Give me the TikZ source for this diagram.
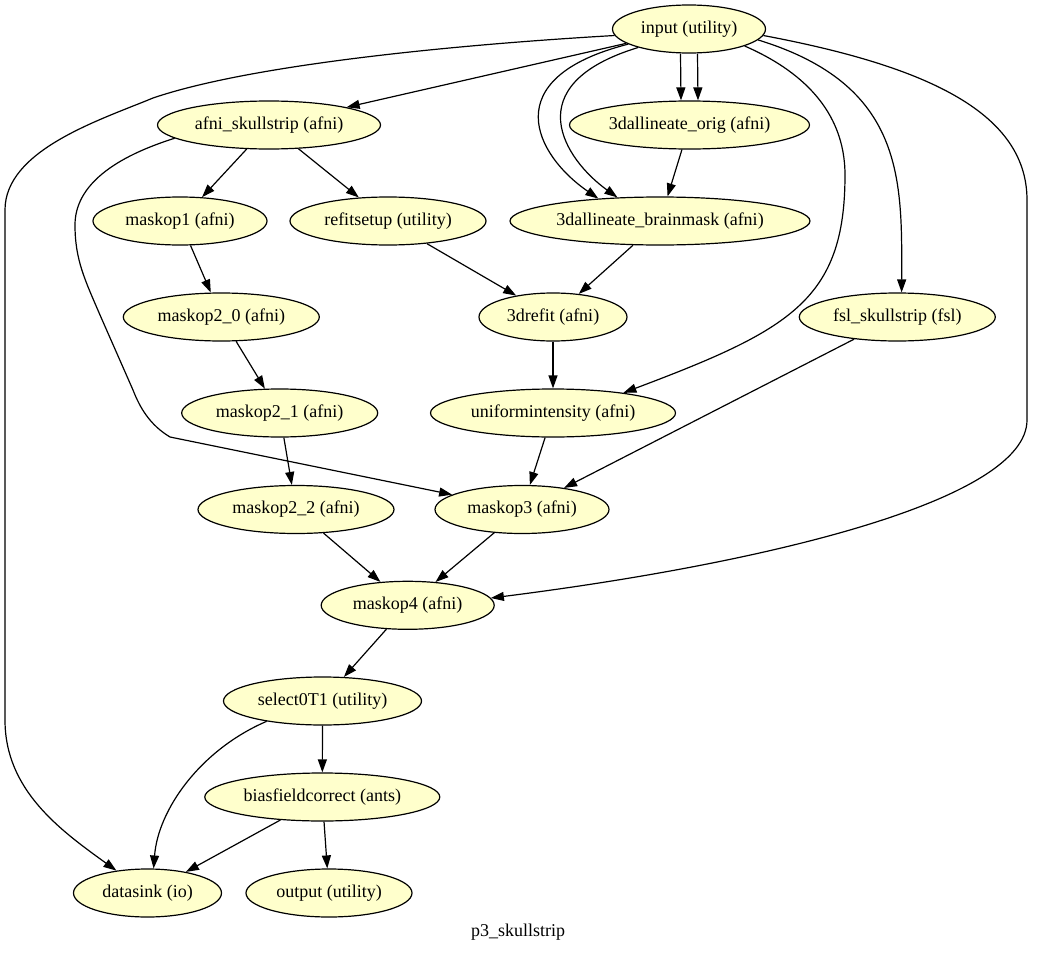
\documentclass[tikz,border=0pt]{standalone}
\usepackage{fontspec}
\setmainfont{Liberation Serif}
\usetikzlibrary{arrows.meta,shapes.geometric}
\definecolor{nodefill}{HTML}{FFFFCC}
\tikzset{
  gnode/.style={ellipse, draw=black, fill=nodefill, line width=1.2pt, inner sep=0pt,
    minimum height=48pt, font=\fontsize{18}{22}\selectfont},
  edge/.style={line width=1.2pt, -{Triangle[length=13pt,width=9pt]}},
  titletext/.style={font=\fontsize{18}{22}\selectfont}
}
\begin{document}
\begin{tikzpicture}[x=1pt,y=-1pt]
\useasboundingbox (0,0) rectangle (1037,953);
% nodes
\node[gnode, minimum width=153pt] (input) at (689,29) {input (utility)};
\node[gnode, minimum width=223pt] (afni) at (269,125) {afni\_skullstrip (afni)};
\node[gnode, minimum width=240pt] (orig) at (689.5,125) {3dallineate\_orig (afni)};
\node[gnode, minimum width=174pt] (mask1) at (180,221) {maskop1 (afni)};
\node[gnode, minimum width=196pt] (refit) at (388,221) {refitsetup (utility)};
\node[gnode, minimum width=300pt] (brain) at (660,221) {3dallineate\_brainmask (afni)};
\node[gnode, minimum width=196pt] (m20) at (221.3,317) {maskop2\_0 (afni)};
\node[gnode, minimum width=148pt] (drefit) at (553,317) {3drefit (afni)};
\node[gnode, minimum width=196pt] (fsl) at (897.3,317) {fsl\_skullstrip (fsl)};
\node[gnode, minimum width=196pt] (m21) at (279.7,413) {maskop2\_1 (afni)};
\node[gnode, minimum width=245pt] (unif) at (553,413) {uniformintensity (afni)};
\node[gnode, minimum width=196pt] (m22) at (296,509.5) {maskop2\_2 (afni)};
\node[gnode, minimum width=174pt] (m3) at (522,509.5) {maskop3 (afni)};
\node[gnode, minimum width=173pt] (m4) at (407.7,605.3) {maskop4 (afni)};
\node[gnode, minimum width=198pt] (sel) at (322.5,701) {select0T1 (utility)};
\node[gnode, minimum width=235pt] (bias) at (322.3,797) {biasfieldcorrect (ants)};
\node[gnode, minimum width=148pt] (sink) at (147.5,893) {datasink (io)};
\node[gnode, minimum width=166pt] (out) at (329,893) {output (utility)};
\node[titletext] (title) at (518,932) {p3\_skullstrip};
% edges from input
\draw[edge] (input) -- (afni);
\draw[edge] (input.185) .. controls (450,45) and (250,65) .. (153,98)
  .. controls (100,120) and (5,150) .. (5,210) -- (5,720)
  .. controls (5,790) and (60,830) .. (sink);
\draw[edge] ([xshift=-8.5pt]input.south) -- ([xshift=-8.5pt]orig.north);
\draw[edge] ([xshift=8.5pt]input.south) -- ([xshift=8.5pt]orig.north);
\draw[edge] (input.194) .. controls (495,78) and (535,155) .. (brain.160);
\draw[edge] (input.200) .. controls (515,85) and (565,160) .. (brain.151);
\draw[edge] (input.343) .. controls (800,70) and (845,110) .. (845,175)
  .. controls (845,300) and (790,330) .. (unif.16);
\draw[edge] (input.-9) .. controls (905,85) and (902,180) .. (fsl.80);
\draw[edge] (input.-5) .. controls (920,65) and (1027,110) .. (1027,200) -- (1027,420)
  .. controls (1027,500) and (768,563) .. (m4.5);
% other edges
\draw[edge] (afni) -- (mask1);
\draw[edge] (afni) -- (refit);
\draw[edge] (afni.188) .. controls (115,157) and (75,185) .. (75,225)
  .. controls (75,260) and (85,280) .. (100,315) -- (133,390)
  .. controls (140,408) and (150,425) .. (170,437) -- (m3.168);
\draw[edge] (orig) -- (brain);
\draw[edge] (mask1) -- (m20);
\draw[edge] (refit) -- (drefit);
\draw[edge] (brain) -- (drefit);
\draw[edge] (m20) -- (m21);
\draw[edge] (drefit) -- (unif);
\draw[edge] (m21) -- (m22);
\draw[edge] (unif) -- (m3);
\draw[edge] (fsl) -- (m3);
\draw[edge] (m22) -- (m4);
\draw[edge] (m3) -- (m4);
\draw[edge] (m4) -- (sel);
\draw[edge] (sel) -- (bias);
\draw[edge] (sel.200) .. controls (200,750) and (158,810) .. (sink.76);
\draw[edge] (bias) -- (sink);
\draw[edge] (bias) -- (out);
\end{tikzpicture}
\end{document}
